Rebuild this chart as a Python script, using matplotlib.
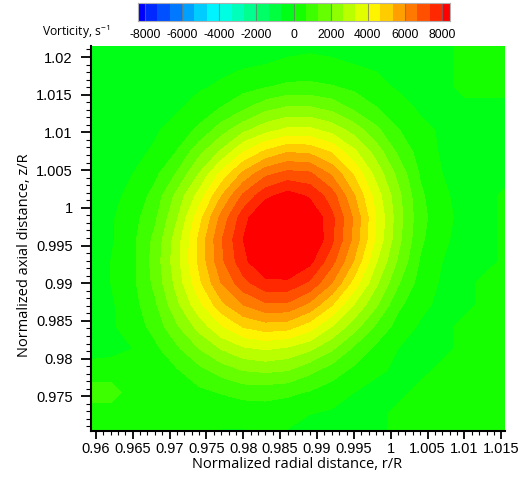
import numpy as np
import matplotlib
matplotlib.use('Agg')
import matplotlib.pyplot as plt
from matplotlib.colors import LinearSegmentedColormap, ListedColormap
from matplotlib.ticker import MultipleLocator, FormatStrFormatter

# grid nodes of the vorticity field (normalized r/R and z/R)
r_nodes = [0.959, 0.962, 0.965, 0.968, 0.971, 0.974, 0.977, 0.980, 0.983, 0.986,
           0.989, 0.992, 0.995, 0.998, 1.001, 1.004, 1.007, 1.010, 1.013, 1.016]
z_nodes = [0.9697, 0.9726, 0.9755, 0.9784, 0.9813, 0.9842, 0.9871, 0.9900, 0.9929, 0.9958,
           0.9987, 1.0016, 1.0045, 1.0074, 1.0103, 1.0132, 1.0161, 1.0190, 1.0219]

# vorticity, 1/s, one row per z node (bottom to top)
vorticity = [
    [300, 300, 300, 300, 300, 300, -100, -100, -100, -100, -200, -300, -300, -300, 300, 300, 300, 300, 300, 300],
    [300, 300, 300, 300, 300, 300, 200, 200, 300, 200, 0, -100, -200, -300, 300, 300, 300, 300, 300, 300],
    [1000, 1000, 300, 300, 300, 500, 700, 900, 900, 800, 600, 300, 0, -200, -300, 300, 300, 300, 300, 300],
    [300, 300, 300, 300, 600, 1100, 1600, 2000, 2100, 2000, 1500, 1000, 500, 100, -100, -300, 300, 300, 300, 300],
    [-300, -200, 0, 500, 1200, 2000, 2700, 3200, 3400, 3200, 2800, 2100, 1200, 500, 0, -200, -300, 300, 300, 300],
    [-300, -100, 300, 900, 1900, 2900, 3900, 4700, 5000, 4900, 4300, 3300, 2300, 1200, 400, -100, -300, 300, 300, 300],
    [-300, -100, 400, 1200, 2500, 3800, 5100, 6000, 6500, 6500, 5800, 4700, 3300, 2100, 800, 200, -200, -300, 300, 300],
    [-300, 0, 500, 1500, 2900, 4500, 6000, 7100, 7800, 7800, 7200, 6000, 4400, 2800, 1400, 400, -100, -300, 300, 300],
    [-300, 0, 500, 1600, 3100, 4800, 6500, 7800, 8700, 8900, 8200, 6900, 5300, 3400, 1900, 600, 0, -300, -300, 300],
    [-300, -100, 500, 1500, 3000, 4800, 6600, 8000, 9200, 9500, 8800, 7500, 5800, 3900, 2200, 800, 100, -200, -300, 300],
    [-300, -100, 400, 1200, 2600, 4400, 6200, 7700, 8900, 9300, 8700, 7500, 5900, 4000, 2300, 900, 200, -200, -300, 300],
    [-300, -200, 200, 900, 2200, 3600, 5300, 6800, 7800, 8300, 7900, 7000, 5400, 3700, 2200, 800, 100, -200, -300, 300],
    [-300, -300, 0, 500, 1400, 2700, 4200, 5500, 6500, 6900, 6800, 5900, 4600, 3100, 1800, 600, 0, -200, -300, -300],
    [-300, -300, -200, 100, 700, 1800, 2800, 4000, 4800, 5300, 5200, 4600, 3500, 2400, 1200, 400, -100, -300, -300, -300],
    [-300, -300, -300, -100, 300, 800, 1700, 2500, 3100, 3500, 3500, 3100, 2400, 1500, 700, 200, -100, -300, -300, -300],
    [-300, -300, -300, -300, -100, 300, 700, 1200, 1800, 2100, 2100, 1800, 1200, 700, 300, -100, -300, -300, -300, -300],
    [-300, -300, -300, -300, -300, -100, 100, 400, 600, 800, 800, 700, 500, 200, -100, -200, -300, 300, 300, 300],
    [-300, -300, -300, -300, -300, -300, -200, -100, 0, 100, 200, 100, 0, -100, -200, -300, -300, 300, 300, 300],
    [-300, -300, -300, -300, -300, -300, -300, -300, -200, -200, -200, -200, -200, -300, -300, -300, -300, 300, 300, 300],
]

cbar_ticks = [-8000, -6000, -4000, -2000, 0, 2000, 4000, 6000, 8000]

# tecplot-like banded rainbow: 24 bands between -8000 and 8000 plus the two ends
levels = [-20000] + list(np.linspace(-8000, 8000, 25)) + [20000]
cmap = LinearSegmentedColormap.from_list('tp', ['#0000ff', '#00ffff', '#00ff00', '#ffff00', '#ff0000'])
colors = [cmap(i / 25) for i in range(26)]

fig = plt.figure(figsize=(5.29, 4.91), dpi=100)
ax = fig.add_axes([90.7 / 529, 1 - 431 / 491, (505 - 90.7) / 529, (431 - 45.7) / 491])
ax.contourf(r_nodes, z_nodes, np.array(vorticity), levels=levels, colors=colors)
ax.set_xlim(0.9593, 1.0155)
ax.set_ylim(0.9704, 1.0215)
ax.xaxis.set_major_locator(MultipleLocator(0.005))
ax.yaxis.set_major_locator(MultipleLocator(0.005))
ax.xaxis.set_minor_locator(MultipleLocator(0.001))
ax.yaxis.set_minor_locator(MultipleLocator(0.001))
ax.xaxis.set_major_formatter(FormatStrFormatter('%g'))
ax.yaxis.set_major_formatter(FormatStrFormatter('%g'))
for s in ['top', 'right']:
    ax.spines[s].set_visible(False)
for s in ['left', 'bottom']:
    ax.spines[s].set_linewidth(1.5)
ax.tick_params(which='major', direction='out', width=1.3, labelsize=10.5)
ax.tick_params(which='minor', direction='out', width=0.8)
ax.tick_params(axis='x', which='major', length=5.5, pad=2.5)
ax.tick_params(axis='x', which='minor', length=3)
ax.tick_params(axis='y', which='major', length=7.5, pad=5.5)
ax.tick_params(axis='y', which='minor', length=3.6)
for lab in ax.get_xticklabels() + ax.get_yticklabels():
    lab.set_fontfamily('Liberation Sans')

fig.text(297 / 529, 1 - 464 / 491, 'Normalized radial distance, r/R', family='Open Sans',
         fontsize=10.5, ha='center', va='center')
fig.text(25 / 529, 1 - 255 / 491, 'Normalized axial distance, z/R', family='Open Sans',
         fontsize=10.5, ha='center', va='center', rotation=90)

# colour legend across the top
cax = fig.add_axes([137.5 / 529, 1 - 21 / 491, 312 / 529, 18.5 / 491])
bounds = [-8400] + list(np.linspace(-8000, 8000, 25)) + [8400]
cax.pcolormesh(bounds, [0, 1], np.arange(26)[None, :], cmap=ListedColormap(colors),
               vmin=-0.5, vmax=25.5, shading='flat')
for t in cbar_ticks:
    cax.axvline(t, color='#707070', lw=0.8, alpha=0.7)
cax.set_xlim(-8400, 8400)
cax.set_ylim(0, 1)
cax.set_yticks([])
cax.set_xticks(cbar_ticks)
cax.set_xticklabels([str(t) for t in cbar_ticks], family='Liberation Sans', fontsize=8.7)
cax.tick_params(axis='x', length=0, pad=6)
for s in cax.spines.values():
    s.set_color('#b0b0b0')
    s.set_linewidth(0.8)
fig.text(42 / 529, 1 - 32 / 491, r'Vorticity, s$^{\mathregular{-1}}$', family='Open Sans',
         fontsize=8.7, ha='left', va='center')

fig.savefig('out.png', dpi=100)
